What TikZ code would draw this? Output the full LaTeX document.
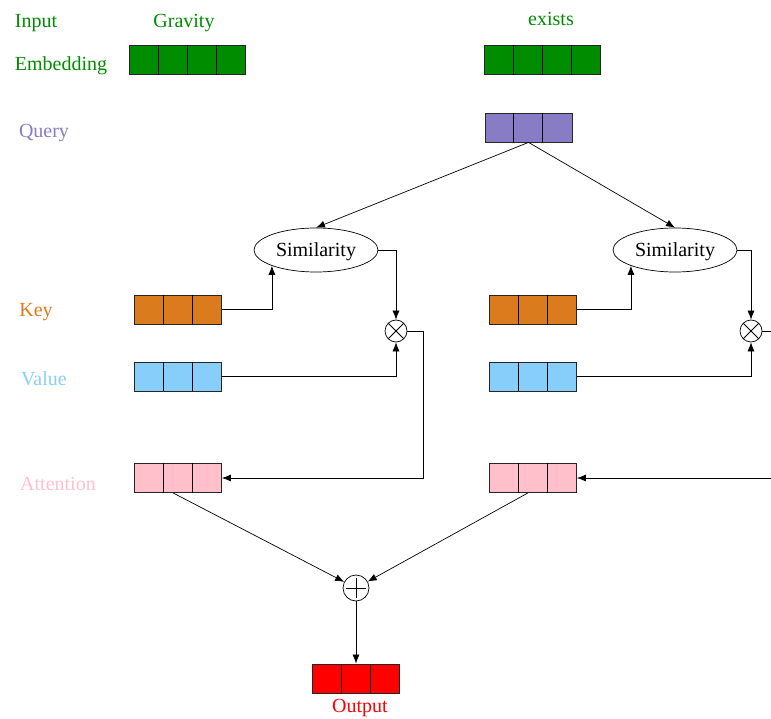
\documentclass[tikz,border=0pt]{standalone}
\usepackage{fontspec}
\setmainfont{Liberation Serif}
\usetikzlibrary{positioning,shapes.geometric,arrows.meta}

\definecolor{embgreen}{RGB}{0,140,0}
\definecolor{qrypurple}{RGB}{136,124,196}
\definecolor{keyorange}{RGB}{218,123,30}
\definecolor{valblue}{RGB}{135,206,250}
\definecolor{attpink}{RGB}{255,192,203}
\definecolor{outred}{RGB}{255,0,0}

\tikzset{
  cell/.style={draw=black!85, line width=0.8pt, minimum height=29pt, inner sep=0pt},
  simnode/.style={ellipse, draw, line width=0.7pt, minimum width=124pt, minimum height=44pt, inner sep=0pt,
    font=\fontsize{20}{24}\selectfont, text depth=0pt},
  mulnode/.style={circle, draw, line width=0.7pt, minimum size=22pt, inner sep=0pt,
    path picture={\draw[line width=0.9pt] (path picture bounding box.north west) -- (path picture bounding box.south east)
                        (path picture bounding box.north east) -- (path picture bounding box.south west);}},
  addnode/.style={circle, draw, line width=0.7pt, minimum size=26pt, inner sep=0pt,
    path picture={\draw[line width=0.9pt] ([xshift=-10pt]path picture bounding box.center) -- ([xshift=10pt]path picture bounding box.center)
                        ([yshift=-10pt]path picture bounding box.center) -- ([yshift=10pt]path picture bounding box.center);}},
  wire/.style={-{Latex[length=9pt,width=7pt]}, line width=0.7pt},
  lbl/.style={font=\fontsize{20}{24}\selectfont, inner sep=1pt}
}

% one word vector: name, centre, number of cells, fill
\newcommand{\wordvec}[4]{%
  \node[cell, fill=#4, minimum width=#3*29pt] (#1) at (#2) {};
  \foreach \k in {2,...,#3}
    \draw[line width=0.8pt] ([xshift={(\k-1)*29pt}]#1.south west) -- ([xshift={(\k-1)*29pt}]#1.north west);
}

\begin{document}
\begin{tikzpicture}[x=1pt, y=-1pt]
  \useasboundingbox (0,0) rectangle (771,719);
  \clip (0,0) rectangle (771,719);

  % row labels
  \node[lbl, text=embgreen] (inputlbl) at (36,23) {Input};
  \node[lbl, text=embgreen] (emblbl) at (61,66) {Embedding};
  \node[lbl, text=qrypurple] (qrylbl) at (44,133) {Query};
  \node[lbl, text=keyorange] (keylbl) at (36,312) {Key};
  \node[lbl, text=valblue] (vallbl) at (44,379) {Value};
  \node[lbl, text=attpink] (attlbl) at (58,484) {Attention};

  % input words
  \node[lbl, text=embgreen] (word1) at (184,23) {Gravity};
  \node[lbl, text=embgreen] (word2) at (551,19) {exists};

  % vectors
  \wordvec{emb1}{187.5,60}{4}{embgreen}
  \wordvec{emb2}{542.5,60}{4}{embgreen}
  \wordvec{qry2}{528.5,127.5}{3}{qrypurple}
  \wordvec{key1}{178,309.5}{3}{keyorange}
  \wordvec{key2}{533,309.5}{3}{keyorange}
  \wordvec{val1}{178,376.5}{3}{valblue}
  \wordvec{val2}{533,376.5}{3}{valblue}
  \wordvec{att1}{178,478}{3}{attpink}
  \wordvec{att2}{533,478}{3}{attpink}
  \wordvec{out}{356,678.5}{3}{outred}
  \node[lbl, text=outred, below=5pt of out, xshift=4pt] (outlbl) {Output};

  % operations
  \node[simnode] (sim1) at (316,250) {Similarity};
  \node[simnode] (sim2) at (675,250) {Similarity};
  \node[mulnode] (mul1) at (396,331) {};
  \node[mulnode] (mul2) at (751,331) {};
  \node[addnode] (add) at (356,588) {};

  % connections
  \draw[wire] (qry2.south) -- (sim1.north);
  \draw[wire] (qry2.south) -- (sim2.north);
  \draw[wire] (key1.east) -| (sim1.south west);
  \draw[wire] (key2.east) -| (sim2.south west);
  \draw[wire] (sim1.east) -| (mul1.north);
  \draw[wire] (sim2.east) -| (mul2.north);
  \draw[wire] (val1.east) -| (mul1.south);
  \draw[wire] (val2.east) -| (mul2.south);
  \draw[wire] (mul1.east) -- ++(16pt,0) |- (att1.east);
  \draw[wire] (mul2.east) -- ++(16pt,0) |- (att2.east);
  \draw[wire] ([xshift=-5pt]att1.south) -- (add);
  \draw[wire] ([xshift=-5pt]att2.south) -- (add);
  \draw[wire] (add.south) -- (out.north);
\end{tikzpicture}
\end{document}
